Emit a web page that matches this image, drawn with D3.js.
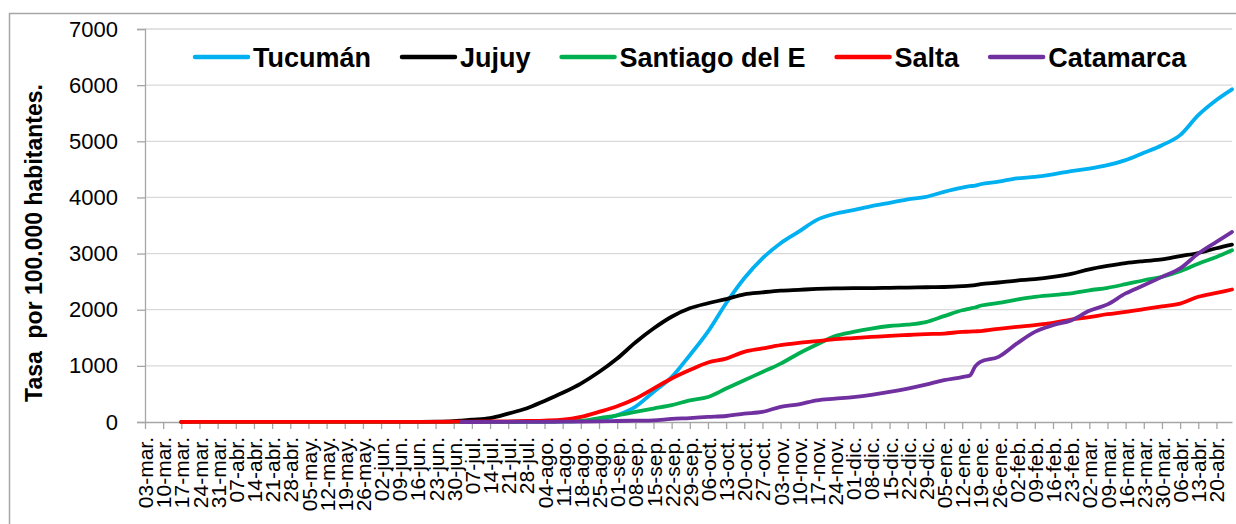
<!DOCTYPE html>
<html>
<head>
<meta charset="utf-8">
<script src="https://cdn.jsdelivr.net/npm/d3@7"></script>
<style>
  html, body { margin: 0; padding: 0; background: #fff; }
  svg { display: block; font-family: "Liberation Sans", Arial, sans-serif; }
</style>
</head>
<body>
<svg id="chart" width="1236" height="524"></svg>
<script>
// Data (tasa acumulada por 100.000 habitantes)
const dates = [
  "2020-03-17", "2020-03-24", "2020-03-31", "2020-04-07", "2020-04-14", "2020-04-21", "2020-04-28",
  "2020-05-05", "2020-05-12", "2020-05-19", "2020-05-26", "2020-06-02", "2020-06-09", "2020-06-16",
  "2020-06-23", "2020-06-30", "2020-07-03", "2020-07-07", "2020-07-14", "2020-07-21", "2020-07-28",
  "2020-08-04", "2020-08-11", "2020-08-18", "2020-08-25", "2020-09-01", "2020-09-08", "2020-09-15",
  "2020-09-22", "2020-09-29", "2020-10-06", "2020-10-13", "2020-10-20", "2020-10-27", "2020-11-03",
  "2020-11-10", "2020-11-17", "2020-11-24", "2020-12-01", "2020-12-08", "2020-12-15", "2020-12-22",
  "2020-12-29", "2021-01-05", "2021-01-12", "2021-01-15", "2021-01-17", "2021-01-19", "2021-01-26",
  "2021-02-02", "2021-02-09", "2021-02-16", "2021-02-23", "2021-03-02", "2021-03-09", "2021-03-16",
  "2021-03-23", "2021-03-30", "2021-04-06", "2021-04-13", "2021-04-20", "2021-04-26"
];

const tucuman = [
  0, 0, 1, 1, 1, 1, 1, 1, 1, 1, 1, 1, 1, 2, 2, 2, 2, 3, 3, 4, 5,
  7, 10, 18, 35, 120, 270, 535, 800, 1190, 1610, 2115, 2560, 2915, 3185,
  3390, 3600, 3710, 3775, 3845, 3905, 3965, 4010, 4100, 4175, 4200, 4210, 4235, 4280,
  4340, 4365, 4410, 4470, 4515, 4575, 4665, 4795, 4930, 5110, 5465, 5735, 5925
];
const jujuy = [
  0, 0, 0, 0, 0, 0, 0, 1, 1, 1, 1, 1, 1, 2, 5, 15, 25, 40, 70, 150, 240,
  375, 520, 685, 890, 1130, 1415, 1665, 1875, 2025, 2115, 2190, 2275, 2310, 2340,
  2355, 2370, 2380, 2385, 2385, 2390, 2395, 2400, 2405, 2420, 2430, 2440, 2455, 2485,
  2520, 2545, 2585, 2640, 2720, 2780, 2830, 2865, 2895, 2955, 3010, 3095, 3160
];
const santiago = [
  0, 0, 0, 0, 0, 0, 0, 0, 0, 0, 0, 0, 1, 1, 1, 1, 1, 2, 3, 4, 5,
  7, 12, 22, 70, 120, 180, 240, 300, 385, 445, 595, 745, 890, 1040,
  1220, 1380, 1530, 1605, 1665, 1710, 1735, 1780, 1885, 1990, 2020, 2040, 2070, 2120,
  2180, 2230, 2260, 2290, 2345, 2390, 2455, 2525, 2585, 2685, 2820, 2940, 3060
];
const salta = [
  0, 1, 1, 1, 2, 2, 2, 2, 2, 2, 2, 2, 3, 3, 4, 5, 6, 8, 10, 12, 18,
  25, 40, 90, 180, 280, 415, 595, 775, 925, 1060, 1130, 1250, 1310, 1370,
  1410, 1440, 1475, 1495, 1515, 1535, 1550, 1565, 1575, 1605, 1610, 1615, 1620, 1660,
  1695, 1725, 1765, 1825, 1870, 1920, 1960, 2010, 2060, 2110, 2230, 2300, 2360
];
const catamarca = [
  null, null, null, null, null, null, null, null, null, null, null, null, null, null, null, null, 0, 0, 1, 2, 3,
  4, 5, 7, 10, 18, 24, 30, 55, 70, 90, 107, 150, 180, 270,
  315, 385, 415, 445, 485, 535, 595, 665, 745, 800, 830, 990, 1070, 1160,
  1395, 1605, 1725, 1810, 1980, 2095, 2290, 2435, 2585, 2735, 3000, 3210, 3385
];

const seriesNames = ["Tucumán", "Jujuy", "Santiago del E", "Salta", "Catamarca"];
const seriesColors = ["#00B0F0", "#000000", "#00B050", "#FF0000", "#7030A0"];
const seriesValues = [tucuman, jujuy, santiago, salta, catamarca];

const tickLabels = [
  "03-mar.", "10-mar.", "17-mar.", "24-mar.", "31-mar.", "07-abr.", "14-abr.", "21-abr.", "28-abr.",
  "05-may.", "12-may.", "19-may.", "26-may.", "02-jun.", "09-jun.", "16-jun.", "23-jun.", "30-jun.",
  "07-jul.", "14-jul.", "21-jul.", "28-jul.", "04-ago.", "11-ago.", "18-ago.", "25-ago.", "01-sep.",
  "08-sep.", "15-sep.", "22-sep.", "29-sep.", "06-oct.", "13-oct.", "20-oct.", "27-oct.", "03-nov.",
  "10-nov.", "17-nov.", "24-nov.", "01-dic.", "08-dic.", "15-dic.", "22-dic.", "29-dic.", "05-ene.",
  "12-ene.", "19-ene.", "26-ene.", "02-feb.", "09-feb.", "16-feb.", "23-feb.", "02-mar.", "09-mar.",
  "16-mar.", "23-mar.", "30-mar.", "06-abr.", "13-abr.", "20-abr."
];
const yTicks = [0, 1000, 2000, 3000, 4000, 5000, 6000, 7000];

const svg = d3.select("#chart");
const W = 1236, H = 524;
const plot = { left: 145, right: 1232, top: 29, bottom: 422 };
const parse = d3.utcParse("%Y-%m-%d");

const x = d3.scaleUtc()
  .domain([parse("2020-03-03"), parse("2021-04-26")])
  .range([plot.left, plot.right]);
const y = d3.scaleLinear().domain([0, 7000]).range([plot.bottom, plot.top]);

const tickDates = d3.utcTuesday.range(parse("2020-03-03"), parse("2021-04-21"));

svg.append("rect").attr("width", W).attr("height", H).attr("fill", "#fff");

// outer chart frame
svg.append("rect")
  .attr("x", 9.5).attr("y", 13.5)
  .attr("width", W + 20).attr("height", H + 40)
  .attr("fill", "none").attr("stroke", "#A6A6A6").attr("stroke-width", 1.5);

// gridlines
svg.append("g")
  .selectAll("line")
  .data(yTicks.filter((d) => d > 0))
  .join("line")
  .attr("x1", plot.left).attr("x2", plot.right)
  .attr("y1", (d) => y(d)).attr("y2", (d) => y(d))
  .attr("stroke", "#D9D9D9").attr("stroke-width", 1.3);

// y axis
const yAxis = svg.append("g")
  .attr("transform", `translate(${plot.left},0)`)
  .call(d3.axisLeft(y).tickValues(yTicks).tickSize(8).tickPadding(19).tickFormat(d3.format("d")));
yAxis.select(".domain").attr("stroke", "#A6A6A6").attr("stroke-width", 1.3);
yAxis.selectAll(".tick line").attr("stroke", "#A6A6A6").attr("stroke-width", 1.3);
yAxis.selectAll("text")
  .attr("font-family", "Liberation Sans, Arial, sans-serif")
  .attr("font-size", 22).attr("fill", "#000");

// x axis
const xAxis = svg.append("g")
  .attr("transform", `translate(0,${plot.bottom})`)
  .call(d3.axisBottom(x).tickValues(tickDates).tickSize(7).tickSizeOuter(0)
    .tickFormat((d, i) => tickLabels[i]));
xAxis.select(".domain").attr("stroke", "#A6A6A6").attr("stroke-width", 1.3);
xAxis.selectAll(".tick line").attr("stroke", "#A6A6A6").attr("stroke-width", 1.3);
xAxis.selectAll("text")
  .attr("font-family", "Liberation Sans, Arial, sans-serif")
  .attr("font-size", 21).attr("fill", "#000")
  .attr("text-anchor", "end")
  .attr("transform", "rotate(-90)")
  .attr("x", -15).attr("y", 0).attr("dy", "0.36em");

// y axis title
svg.append("text")
  .attr("transform", "translate(41.5,243) rotate(-90)")
  .attr("text-anchor", "middle")
  .attr("font-weight", "bold").attr("font-size", 23)
  .attr("xml:space", "preserve")
  .text("Tasa  por 100.000 habitantes.");

// series lines
const line = d3.line()
  .defined((d) => d.v != null)
  .x((d) => x(d.date))
  .y((d) => y(d.v))
  .curve(d3.curveMonotoneX);

seriesValues.forEach((vals, k) => {
  const pts = dates.map((s, i) => ({ date: parse(s), v: vals[i] }));
  svg.append("path")
    .datum(pts)
    .attr("d", line)
    .attr("fill", "none")
    .attr("stroke", seriesColors[k])
    .attr("stroke-width", 3.8)
    .attr("stroke-linejoin", "round")
    .attr("stroke-linecap", "round");
});

// legend
const legend = svg.append("g");
let lx = 195;
seriesNames.forEach((name, k) => {
  legend.append("line")
    .attr("x1", lx).attr("x2", lx + 53)
    .attr("y1", 57).attr("y2", 57)
    .attr("stroke", seriesColors[k]).attr("stroke-width", 4.5)
    .attr("stroke-linecap", "round");
  const t = legend.append("text")
    .attr("x", lx + 58).attr("y", 66.5)
    .attr("font-weight", "bold").attr("font-size", 27)
    .text(name);
  lx += 58 + t.node().getComputedTextLength() + 31;
});
</script>
</body>
</html>
